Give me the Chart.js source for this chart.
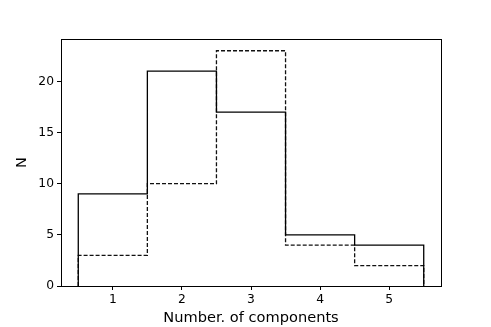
<!DOCTYPE html>
<html>
<head>
<meta charset="utf-8">
<script src="https://cdn.jsdelivr.net/npm/chart.js@4"></script>
<style>
  html, body { margin: 0; padding: 0; background: #fff; }
  #wrap { width: 491px; height: 327px; }
</style>
</head>
<body>
<div id="wrap"><canvas id="myChart" width="491" height="327"></canvas></div>
<script>
    // histogram bins (number of components) and counts
    const binCenters = [1, 2, 3, 4, 5];
    const solidCounts = [9, 21, 17, 5, 4];
    const dashedCounts = [3, 10, 23, 4, 2];
    const xTicks = [1, 2, 3, 4, 5];
    const yTicks = [0, 5, 10, 15, 20];

    // outline of a step histogram, starting and ending on zero
    function stepOutline(counts) {
      const pts = [{x: binCenters[0] - 0.5, y: 0}];
      counts.forEach(function(c, i) {
        pts.push({x: binCenters[i] - 0.5, y: c});
      });
      const last = binCenters[binCenters.length - 1] + 0.5;
      pts.push({x: last, y: counts[counts.length - 1]});
      pts.push({x: last, y: 0});
      return pts;
    }

    const frame = {
      id: 'frame',
      afterDraw: function(chart) {
        const a = chart.chartArea, ctx = chart.ctx;
        ctx.save();
        ctx.strokeStyle = '#000';
        ctx.lineWidth = 1;
        ctx.strokeRect(Math.round(a.left) + 0.5, Math.round(a.top) + 0.5,
          Math.round(a.right - a.left), Math.round(a.bottom - a.top));
        ctx.restore();
      }
    };

    const tickFont = {family: 'DejaVu Sans', size: 12.3};
    const data = {
      datasets: [{
        data: stepOutline(solidCounts),
        borderColor: '#000',
        borderWidth: 1.3,
        stepped: 'before',
        pointRadius: 0,
        fill: false
      }, {
        data: stepOutline(dashedCounts),
        borderColor: '#111',
        borderWidth: 1.3,
        borderDash: [4, 2],
        stepped: 'before',
        pointRadius: 0,
        fill: false
      }]
    };
    const config = {
      type: 'line',
      data: data,
      plugins: [frame],
      options: {
        responsive: false,
        animation: false,
        layout: {padding: {left: 0, right: 50, top: 39, bottom: 0}},
        plugins: {legend: {display: false}, tooltip: {enabled: false}},
        scales: {
          x: {
            type: 'linear',
            min: 0.25,
            max: 5.75,
            afterBuildTicks: function(s) { s.ticks = xTicks.map(v => ({value: v})); },
            afterFit: function(s) { s.height = 41; },
            grid: {drawOnChartArea: false, drawTicks: true, tickLength: 4, color: '#000'},
            border: {color: '#000'},
            ticks: {color: '#000', font: tickFont, padding: 2, maxRotation: 0},
            title: {display: true, text: 'Number. of components', color: '#000',
              font: {family: 'DejaVu Sans', size: 14.6}, padding: {top: 0, bottom: 0}}
          },
          y: {
            min: 0,
            max: 24.15,
            afterBuildTicks: function(s) { s.ticks = yTicks.map(v => ({value: v})); },
            afterFit: function(s) { s.width = 61; },
            grid: {drawOnChartArea: false, drawTicks: true, tickLength: 4, color: '#000'},
            border: {color: '#000'},
            ticks: {color: '#000', font: tickFont, padding: 3},
            title: {display: true, text: 'N', color: '#000',
              font: {family: 'DejaVu Sans', size: 14.6}, padding: {top: 13, bottom: 0}}
          }
        }
      }
    };
    var myChart = new Chart(
      document.getElementById('myChart'),
      config
    );
</script>
</body>
</html>
